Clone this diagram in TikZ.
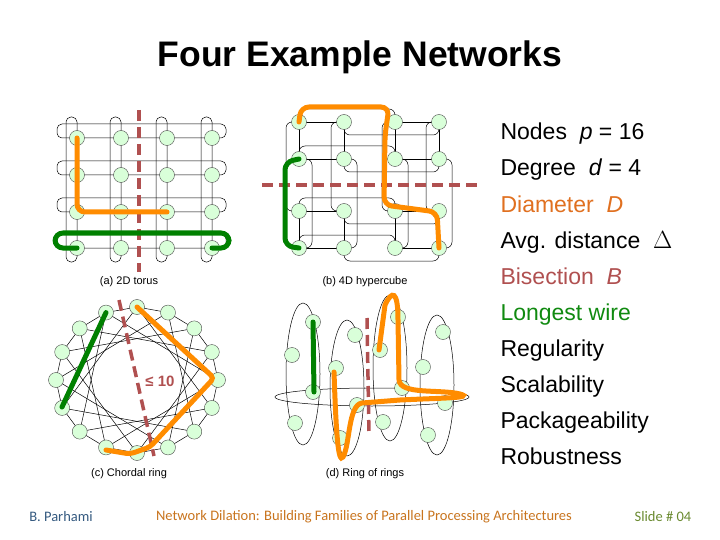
\documentclass[tikz,border=0pt]{standalone}
\usepackage{fontspec}
\setmainfont{Liberation Sans}
\newfontfamily\footfont{Carlito}
\definecolor{dcol}{HTML}{E07020}
\definecolor{bcol}{HTML}{B05050}
\definecolor{lcol}{HTML}{108A10}
\definecolor{f1}{HTML}{355A80}
\definecolor{f2}{HTML}{C8741E}
\definecolor{f3}{HTML}{6A8A30}
\begin{document}
\begin{tikzpicture}[x=1pt,y=-1pt,
  nd/.style={circle,draw=black!70,fill=green!15!white,line width=0.4pt,minimum size=15pt,inner sep=0pt},
  wire/.style={line width=0.5pt,black},
  oran/.style={line width=5pt,orange!90!yellow,line cap=round,rounded corners=8pt},
  grn/.style={line width=5pt,green!50!black,line cap=round,rounded corners=8pt},
  bis/.style={line width=3.5pt,bcol,dash pattern=on 11pt off 6pt},
  capt/.style={font=\fontsize{11}{13}\selectfont},
  item/.style={anchor=base west,font=\fontsize{23}{26}\selectfont},
  foot/.style={font=\footfont\fontsize{14.5}{16}\selectfont}]
\useasboundingbox (0,0) rectangle (720,540);
\node[font=\bfseries\fontsize{35.5}{38}\selectfont] (title) at (360,57) {Four Example Networks};
% ---------- (a) torus
\foreach \y in {138,175,212,248} \draw[wire,rounded corners=5pt] (57,\y-14) rectangle (226,\y);
\foreach \x in {77,121,167,212} \draw[wire,rounded corners=5pt] (\x-11,117) rectangle (\x,262);
\foreach \x [count=\i] in {77,121,167,212}
  \foreach \y [count=\j] in {138,175,212,248}
    \node[nd] (t\i\j) at (\x,\y) {};
\draw[bis] (139,110) -- (139,272);
\draw[oran] (t11.center) -- (t13.center) -- (t33.center);
\draw[grn] (t14.center) -- (55,248) -- (55,233) -- (229,233) -- (229,248) -- (t44.center);
\node[capt] (ca) at (129,282) {(a) 2D torus};
% ---------- (b) hypercube
\foreach \y in {122,159,211,248} {
  \draw[wire] (299,\y) -- (344,\y) (395,\y) -- (439,\y);
  \draw[wire,rounded corners=6pt] (299,\y) -- (299,\y-13) -- (395,\y-13) -- (395,\y);
  \draw[wire,rounded corners=6pt] (344,\y) -- (344,\y+13) -- (439,\y+13) -- (439,\y);
}
\foreach \x in {299,344,395,439} {
  \draw[wire] (\x,122) -- (\x,159) (\x,211) -- (\x,248);
  \draw[wire,rounded corners=6pt] (\x,122) -- (\x-13,122) -- (\x-13,211) -- (\x,211);
  \draw[wire,rounded corners=6pt] (\x,159) -- (\x+13,159) -- (\x+13,248) -- (\x,248);
}
\foreach \x [count=\i] in {299,344,395,439}
  \foreach \y [count=\j] in {122,159,211,248}
    \node[nd] (h\i\j) at (\x,\y) {};
\draw[bis] (262,185) -- (480,185);
\draw[oran] (h11.center) -- (301,107) -- (389,107) -- (385,135) -- (384,205) -- (437,212) -- (h44.center);
\draw[grn] (h12.center) -- (285,162) -- (285,246) -- (h14.center);
\node[capt] (cb) at (365,282) {(b) 4D hypercube};
% ---------- (c) chordal ring
\foreach \i in {0,...,15} \coordinate (p\i) at ({137+81*cos(90+22.5*\i)},{380-73*sin(90+22.5*\i)});
\foreach \i in {0,...,15} {
  \pgfmathtruncatemacro\a{mod(\i+1,16)}
  \pgfmathtruncatemacro\b{mod(\i+5,16)}
  \draw[wire] (p\i) -- (p\a) (p\i) -- (p\b);
}
\foreach \i in {0,...,15} \node[nd] (c\i) at (p\i) {};
\draw[bis] (119,300) -- (154,456);
\draw[oran,rounded corners=4pt] (c0.center) -- (214,378) -- (150,447) -- (130,454) -- (106,450);
\draw[grn] (c1.center) -- (62,407);
\node[font=\bfseries\fontsize{15}{17}\selectfont,text=bcol] (le) at (160,381) {≤ 10};
\node[capt] (cc) at (129,474) {(c) Chordal ring};
% ---------- (d) ring of rings
\draw[wire] (372,397) ellipse (97pt and 9pt);
\foreach \cx/\cy/\ry in {303/374/71,347/388/68,390/368/73,437/385/70}
  \draw[wire] (\cx,\cy) ellipse (17pt and \ry pt);
\foreach \x/\y [count=\i] in {313/322,292/355,313/392,295/423,355/335,336/368,357/405,340/438,398/317,380/350,402/388,383/422,443/332,423/367,445/403,428/435}
  \node[nd] (r\i) at (\x,\y) {};
\draw[bis] (367,318) -- (369,436);
\draw[grn,rounded corners=0pt] (r1.center) -- (314,392);
\draw[oran,rounded corners=0pt] (334,372) .. controls (336,430) and (338,465) .. (343,457)
  .. controls (350,445) and (348,405) .. (362,403) -- (400,400)
  .. controls (440,398) and (475,398) .. (460,394)
  .. controls (440,389) and (400,395) .. (399,380) -- (398,320)
  .. controls (398,290) and (392,290) .. (385,305) -- (379,350);
\node[capt] (cd) at (365,474) {(d) Ring of rings};
% ---------- list
\node[item] (l1) at (497,140) {Nodes\ \ \textit{p} = 16};
\node[item] (l2) at (497,176) {Degree\ \ \textit{d} = 4};
\node[item,text=dcol] (l3) at (497,212) {Diameter\ \ \textit{D}};
\node[item] (l4) at (497,248) {Avg. distance\ \ $\Delta$};
\node[item,text=bcol] (l5) at (497,284) {Bisection\ \ \textit{B}};
\node[item,text=lcol] (l6) at (497,320) {Longest wire};
\node[item] (l7) at (497,356) {Regularity};
\node[item] (l8) at (497,392) {Scalability};
\node[item] (l9) at (497,428) {Packageability};
\node[item] (l10) at (497,464) {Robustness};
% ---------- footer
\node[foot,text=f1] (fa) at (61,517) {B. Parhami};
\node[foot,text=f2] (fb) at (364,517) {Network Dilation: Building Families of Parallel Processing Architectures};
\node[foot,text=f3] (fc) at (663,517) {Slide \# 04};
\end{tikzpicture}
\end{document}
